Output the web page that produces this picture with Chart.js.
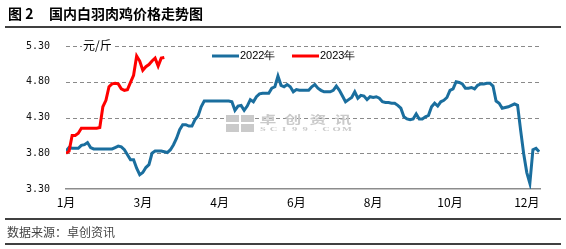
<!DOCTYPE html>
<html>
<head>
<meta charset="utf-8">
<script src="https://cdn.jsdelivr.net/npm/chart.js@4.4.1/dist/chart.umd.min.js"></script>
<style>
  html, body { margin: 0; padding: 0; background: #fff; }
  #wrap { position: relative; width: 566px; height: 249px; }
</style>
</head>
<body>
<div id="wrap"><canvas id="c" width="566" height="249"></canvas></div>
<script>
// ---- data ----
const seriesNames = ['2022年', '2023年'];
const monthLabels = ['1月', '3月', '4月', '6月', '8月', '10月', '12月'];
const labelEvery = 25; // one month label every 25 trading-day samples
const yTicks = [3.30, 3.80, 4.30, 4.80, 5.30];

const series2022 = [
  3.83, 3.88, 3.87, 3.87, 3.87, 3.91, 3.92, 3.95, 3.88, 3.86,
  3.86, 3.86, 3.86, 3.86, 3.86, 3.86, 3.88, 3.90, 3.89, 3.85,
  3.78, 3.71, 3.71, 3.59, 3.50, 3.53, 3.60, 3.64, 3.80, 3.83,
  3.83, 3.83, 3.82, 3.81, 3.85, 3.92, 4.01, 4.13, 4.20, 4.20,
  4.18, 4.18, 4.27, 4.32, 4.45, 4.53, 4.53, 4.53, 4.53, 4.53,
  4.53, 4.53, 4.53, 4.53, 4.52, 4.40, 4.46, 4.47, 4.40, 4.46,
  4.55, 4.52, 4.59, 4.63, 4.64, 4.64, 4.64, 4.71, 4.73, 4.88,
  4.75, 4.73, 4.76, 4.73, 4.66, 4.69, 4.68, 4.68, 4.68, 4.68,
  4.73, 4.76, 4.71, 4.68, 4.66, 4.66, 4.66, 4.68, 4.74, 4.68,
  4.60, 4.52, 4.55, 4.58, 4.66, 4.57, 4.61, 4.60, 4.55, 4.59,
  4.58, 4.59, 4.57, 4.52, 4.51, 4.51, 4.50, 4.50, 4.47, 4.43,
  4.31, 4.28, 4.27, 4.28, 4.35, 4.28, 4.28, 4.31, 4.33, 4.45,
  4.50, 4.46, 4.52, 4.54, 4.58, 4.68, 4.70, 4.80, 4.79, 4.77,
  4.71, 4.71, 4.72, 4.70, 4.75, 4.77, 4.77, 4.78, 4.78, 4.74,
  4.53, 4.50, 4.43, 4.44, 4.45, 4.47, 4.49, 4.47, 4.12, 3.79,
  3.53, 3.38, 3.85, 3.87, 3.82
];

const series2023 = [
  3.80, 3.83, 4.05, 4.05, 4.08, 4.15, 4.15, 4.15, 4.15, 4.15,
  4.15, 4.16, 4.45, 4.54, 4.73, 4.77, 4.78, 4.77, 4.70, 4.68,
  4.69, 4.79, 4.89, 5.16, 5.09, 4.96, 5.01, 5.04, 5.09, 5.13,
  5.02, 5.13, 5.14
];

const toPoints = arr => arr.map((v, i) => ({ x: i, y: v }));

// ---- decorations plugin ----
const deco = {
  id: 'deco',
  beforeDatasetsDraw(chart) {
    const ctx = chart.ctx;
    const area = chart.chartArea;
    const ys = chart.scales.y;
    ctx.save();
    // dashed horizontal grid lines (through the y scale)
    ctx.strokeStyle = '#8a8a8a';
    ctx.lineWidth = 1;
    ctx.setLineDash([4, 3]);
    yTicks.slice(1).forEach(v => {
      const y = Math.round(ys.getPixelForValue(v)) + 0.5;
      ctx.beginPath(); ctx.moveTo(area.left, y); ctx.lineTo(area.right, y); ctx.stroke();
    });
    ctx.setLineDash([]);
    // watermark
    ctx.fillStyle = '#cacaca';
    ctx.fillRect(226, 115, 13, 7);
    ctx.fillRect(241, 115, 13, 7);
    ctx.fillRect(226, 124, 13, 8);
    ctx.fillRect(241, 124, 13, 8);
    ctx.font = 'bold 12px "Noto Sans CJK SC"';
    ctx.textBaseline = 'middle';
    ctx.textAlign = 'center';
    const wm = ['卓', '创', '资', '讯'];
    const wmx = [268, 293, 318, 343];
    wm.forEach((ch, k) => {
      ctx.save();
      ctx.translate(wmx[k], 120);
      ctx.scale(1.4, 0.95);
      ctx.fillText(ch, 0, 0);
      ctx.restore();
    });
    ctx.font = 'bold 7px "Liberation Serif"';
    const sc = 'SCI99.COM'.split('');
    sc.forEach((ch, k) => {
      ctx.save();
      ctx.translate(263 + k * 10.5, 129.5);
      ctx.scale(1.5, 1);
      ctx.fillText(ch, 0, 0);
      ctx.restore();
    });
    ctx.restore();
  },
  afterDraw(chart) {
    const ctx = chart.ctx;
    ctx.save();
    // title
    ctx.fillStyle = '#000';
    ctx.textBaseline = 'middle';
    ctx.textAlign = 'left';
    ctx.font = 'bold 14px "Noto Sans CJK SC"';
    ctx.fillText('图 2', 8, 14);
    ctx.fillText('国内白羽肉鸡价格走势图', 49, 14);
    // rules
    ctx.strokeStyle = '#000';
    ctx.lineWidth = 1.5;
    [27, 219, 244].forEach(y => {
      ctx.beginPath(); ctx.moveTo(5, y); ctx.lineTo(561, y); ctx.stroke();
    });
    // source
    ctx.fillStyle = '#444';
    ctx.font = '12px "Noto Sans CJK SC"';
    ctx.fillText('数据来源：卓创资讯', 7, 232);
    // unit
    ctx.font = '12px "Noto Sans CJK SC"';
    const uw = ctx.measureText('元/斤').width;
    ctx.fillStyle = '#fff';
    ctx.fillRect(82, 39, uw + 2, 12);
    ctx.fillStyle = '#000';
    ctx.fillText('元/斤', 83, 45);
    // legend
    const colors = chart.data.datasets.map(d => d.borderColor);
    const lx = [212, 292];
    ctx.font = '11px "Liberation Sans"';
    seriesNames.forEach((name, k) => {
      ctx.strokeStyle = colors[k];
      ctx.lineWidth = 3;
      ctx.beginPath(); ctx.moveTo(lx[k], 56); ctx.lineTo(lx[k] + 27, 56); ctx.stroke();
      ctx.fillStyle = '#000';
      ctx.fillText(name, lx[k] + 28, 56);
    });
    ctx.restore();
  }
};

new Chart(document.getElementById('c'), {
  type: 'line',
  data: {
    datasets: [
      { label: seriesNames[0], data: toPoints(series2022), borderColor: '#1A6E9E', borderWidth: 3, pointRadius: 0, tension: 0, order: 2 },
      { label: seriesNames[1], data: toPoints(series2023), borderColor: '#FF0000', borderWidth: 3, pointRadius: 0, tension: 0, order: 1 }
    ]
  },
  options: {
    responsive: false,
    animation: false,
    devicePixelRatio: 1,
    layout: { padding: { top: 46, left: 0, right: 26, bottom: 35 } },
    plugins: { legend: { display: false }, tooltip: { enabled: false }, title: { display: false } },
    scales: {
      x: {
        type: 'linear',
        min: 0,
        max: 154.3,
        afterBuildTicks: s => { s.ticks = monthLabels.map((_, i) => ({ value: i * labelEvery })); },
        afterFit: s => { s.height = 25; },
        ticks: {
          callback: (v) => monthLabels[Math.round(v / labelEvery)],
          color: '#000',
          font: { family: '"Noto Sans CJK SC"', size: 12 },
          padding: 6,
          maxRotation: 0,
          autoSkip: false
        },
        grid: { display: false, drawTicks: false },
        border: { display: true, color: '#8c8c8c', width: 1.5 }
      },
      y: {
        min: 3.3,
        max: 5.3,
        afterBuildTicks: s => { s.ticks = yTicks.map(v => ({ value: v })); },
        afterFit: s => { s.width = 66; },
        ticks: {
          callback: v => Number(v).toFixed(2),
          color: '#111',
          font: { family: '"DejaVu Sans Mono"', size: 10 },
          padding: 16
        },
        grid: { display: false, drawTicks: false },
        border: { display: false }
      }
    }
  },
  plugins: [deco]
});
</script>
</body>
</html>
